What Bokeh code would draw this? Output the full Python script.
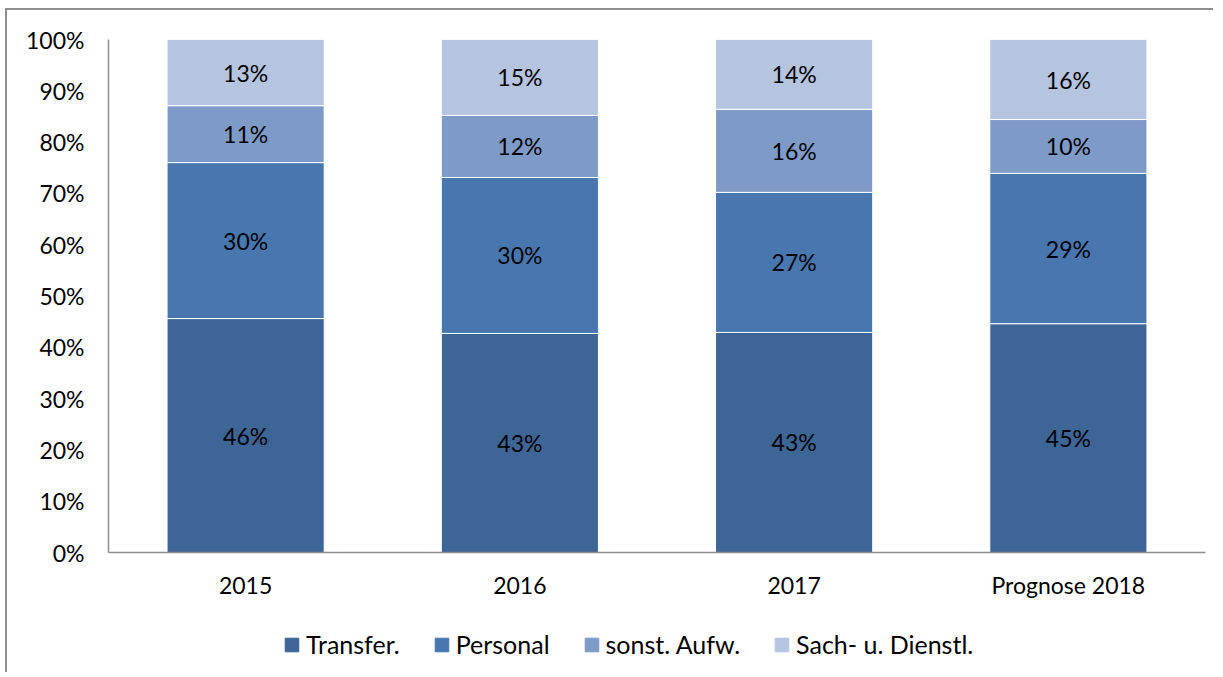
from bokeh.plotting import figure
from bokeh.layouts import column
from bokeh.models import ColumnDataSource, FactorRange, Range1d, FixedTicker, PrintfTickFormatter, Legend, LegendItem
from bokeh.core.properties import value
from bokeh.embed import file_html
from bokeh.resources import INLINE

categories = ["2015", "2016", "2017", "Prognose 2018"]
series = ["Transfer.", "Personal", "sonst. Aufw.", "Sach- u. Dienstl."]
transfer = [45.6, 42.7, 42.9, 44.6]
personal = [30.4, 30.4, 27.3, 29.3]
sonst = [11.1, 12.1, 16.2, 10.5]
sach = [12.9, 14.8, 13.6, 15.6]
colors = ["#3D6596", "#4877B0", "#7E9BC8", "#B5C4DF"]
y_ticks = [0, 10, 20, 30, 40, 50, 60, 70, 80, 90, 100]

FONT = "Lato"
FS = "23px"
keys = ["transfer", "personal", "sonst", "sach"]
data = dict(cat=categories, transfer=transfer, personal=personal, sonst=sonst, sach=sach)
src = ColumnDataSource(data)

p = figure(x_range=FactorRange(*categories), y_range=Range1d(0, 100),
           frame_width=1097, frame_height=513, output_backend="svg", toolbar_location=None,
           min_border_left=101, min_border_top=29, min_border_right=8, min_border_bottom=70)

rs = p.vbar_stack(keys, x="cat", width=0.573, source=src, color=colors,
                  line_color="white", line_width=1)

# data labels
lx, ly, lt = [], [], []
for i, c in enumerate(categories):
    base = 0.0
    for k in keys:
        v = data[k][i]
        lx.append(c)
        ly.append(base + v / 2)
        lt.append(f"{round(v)}%")
        base += v
p.text(x=lx, y=ly, text=lt, text_align="center", text_baseline="middle",
       text_font=value(FONT), text_font_size=FS, text_color="#000000")

p.xgrid.visible = False
p.ygrid.visible = False
p.outline_line_color = None

p.yaxis.ticker = FixedTicker(ticks=y_ticks)
p.yaxis.formatter = PrintfTickFormatter(format="%d%%")
for ax in (p.xaxis[0], p.yaxis[0]):
    ax.axis_line_color = "#8f8f8f"
    ax.axis_line_width = 1.5
    ax.major_tick_line_color = None
    ax.minor_tick_line_color = None
    ax.major_label_text_font = FONT
    ax.major_label_text_font_size = FS
    ax.major_label_text_color = "#000000"
p.yaxis.major_label_standoff = 18
p.xaxis.major_label_standoff = 12

# legend strip (separate figure so the legend is not clipped); its proxy bars lie outside its y range
p2 = figure(x_range=FactorRange(*categories), y_range=Range1d(1000, 1001),
            frame_width=1206, frame_height=50, output_backend="svg", toolbar_location=None,
            x_axis_type=None, y_axis_type=None,
            min_border_left=0, min_border_right=0, min_border_top=0, min_border_bottom=0)
p2.outline_line_color = None
p2.xgrid.visible = False
p2.ygrid.visible = False
proxies = p2.vbar_stack(keys, x="cat", width=0.5, source=src, color=colors)
legend = Legend(items=[LegendItem(label=s, renderers=[r]) for s, r in zip(series, proxies)],
                orientation="horizontal", location=(276, 13),
                label_text_font=FONT, label_text_font_size="25px", label_text_color="#000000",
                glyph_width=17, glyph_height=17, label_standoff=6, spacing=33,
                border_line_color=None, background_fill_alpha=0, margin=0, padding=0)
p2.add_layout(legend)

layout = column(p, p2, spacing=0,
                styles={"border-left": "2px solid #8f8f8f", "border-top": "2px solid #8f8f8f",
                        "margin-left": "5px", "margin-top": "8px"})

open("out.html", "w").write(file_html(layout, INLINE))
